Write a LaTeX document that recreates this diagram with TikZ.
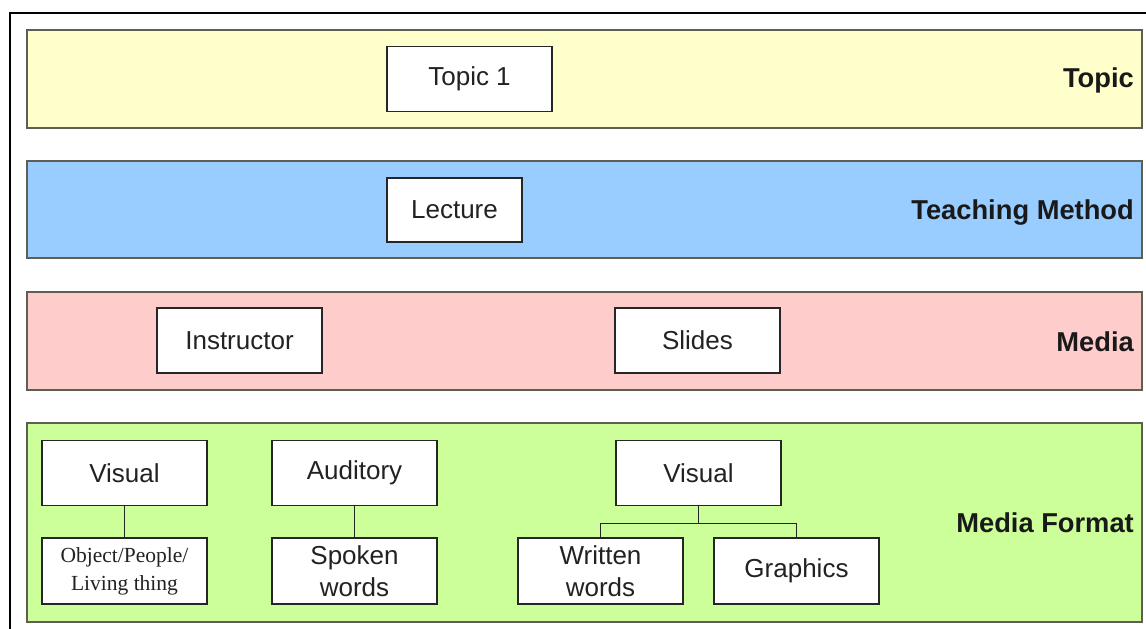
\documentclass[tikz,border=0pt]{standalone}
\usepackage{fontspec}
\usetikzlibrary{calc}
\setmainfont{Liberation Sans}
\newfontfamily\serifface{Liberation Serif}
\definecolor{bandline}{HTML}{5E5E52}
\definecolor{topicfill}{HTML}{FFFFCC}
\definecolor{methodfill}{HTML}{99CCFF}
\definecolor{mediafill}{HTML}{FFCCCC}
\definecolor{formatfill}{HTML}{CCFF99}
\definecolor{ink}{HTML}{222222}
\begin{document}
\begin{tikzpicture}[x=1pt,y=-1pt,
  band/.style={draw=bandline,line width=1.6pt},
  itembox/.style={draw=black!85,line width=1.4pt,fill=white,
    text=ink,font=\fontsize{26}{32}\selectfont,align=center,inner sep=0pt},
  layerlabel/.style={anchor=base east,text=black!90,font=\fontsize{27.3}{30}\selectfont\bfseries,inner sep=0pt},
  link/.style={draw=black!85,line width=1.4pt}]
\useasboundingbox (0,0) rectangle (1146,629);
% outer frame (left and top edges)
\draw[line width=1.6pt] (10,629) -- (10,13) -- (1146,13);

% layer bands
\draw[band,fill=topicfill]  (27,30)  rectangle (1142,128);
\draw[band,fill=methodfill] (27,161) rectangle (1142,258);
\draw[band,fill=mediafill]  (27,292) rectangle (1142,390);
\draw[band,fill=formatfill] (27,423) rectangle (1142,622);

% layer labels
\node[layerlabel] (lTopic)  at (1134,87)  {Topic};
\node[layerlabel] (lMethod) at (1134,219) {Teaching Method};
\node[layerlabel] (lMedia)  at (1134,351) {Media};
\node[layerlabel] (lFormat) at (1134,532) {Media Format};

% topic and method
\node[itembox,minimum width=165pt,minimum height=65pt] (topic1)  at (469.5,79)  {Topic 1};
\node[itembox,minimum width=135pt,minimum height=64pt] (lecture) at (454.5,210) {Lecture};

% media
\node[itembox,minimum width=165pt,minimum height=65pt] (instr)  at (239.5,340.5) {Instructor};
\node[itembox,minimum width=165pt,minimum height=65pt] (slides) at (697.5,340.5) {Slides};

% media formats
\node[itembox,minimum width=165pt,minimum height=65pt] (visA) at (124.5,473) {Visual};
\node[itembox,minimum width=165pt,minimum height=65pt] (aud)  at (354.5,473) {Auditory};
\node[itembox,minimum width=165pt,minimum height=65pt] (visB) at (698.5,473) {Visual};

\node[itembox,minimum width=165pt,minimum height=66pt,
      font=\serifface\fontsize{21.5}{28}\selectfont] (obj) at (124.5,571)
      {Object/People/\\Living thing};
\node[itembox,minimum width=165pt,minimum height=66pt,
      font=\fontsize{26}{32}\selectfont] (spoken) at (354.5,571) {Spoken\\words};
\node[itembox,minimum width=165pt,minimum height=66pt,
      font=\fontsize{26}{32}\selectfont] (written) at (600.5,571) {Written\\words};
\node[itembox,minimum width=165pt,minimum height=66pt] (graph) at (796.5,571) {Graphics};

% connectors
\draw[link] (visA.south) -- (obj.north);
\draw[link] (aud.south) -- (spoken.north);
\coordinate (fork) at ($(visB.south)+(0,17)$);
\draw[link] (visB.south) -- (fork);
\draw[link] (written.north) |- (fork) -| (graph.north);
\end{tikzpicture}
\end{document}
